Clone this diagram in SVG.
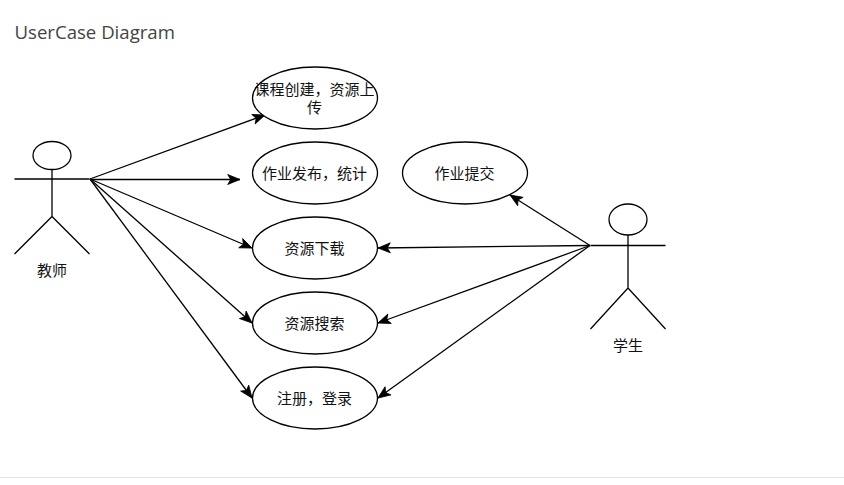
<svg xmlns="http://www.w3.org/2000/svg" width="844" height="485" viewBox="0 0 844 485">
<style>
.s{fill:none;stroke:#000;stroke-width:1.3}
.e{fill:#fff;stroke:#000;stroke-width:1.3}
.t{font-family:"Noto Sans CJK SC","Noto Sans",sans-serif;font-size:15px;fill:#111;text-anchor:middle}
.c{fill:none;stroke:#000;stroke-width:1.3;marker-end:url(#a)}
</style>
<defs>
<marker id="a" viewBox="0 0 14 12" refX="13" refY="6" markerUnits="userSpaceOnUse" markerWidth="14" markerHeight="12" orient="auto">
<path d="M0.7 1 L13 6 L0.7 11 L3.7 6 Z" fill="#000" stroke="#000" stroke-width="0.8"/>
</marker>
</defs>
<rect width="844" height="485" fill="#fff"/>
<text id="title" x="14.500" y="38.500" style="font-family:'Open Sans','Noto Sans',sans-serif;font-size:18.600px;fill:#444">UserCase Diagram</text>
<rect x="0" y="477" width="844" height="1" fill="#e2e2e2"/>
<g id="connectors">
<path class="c" d="M90 179 L265 115"/>
<path class="c" d="M90 179.500 L240 179.500"/>
<path class="c" d="M90 179 L252 248"/>
<path class="c" d="M90 179 L252 323"/>
<path class="c" d="M90 179 L252 398"/>
<path class="c" d="M590 245.500 L510 195"/>
<path class="c" d="M590 245.500 L378 248"/>
<path class="c" d="M590 245.500 L378 323"/>
<path class="c" d="M590 245.500 L378 398"/>
</g>
<g id="teacher">
<ellipse class="s" cx="52" cy="155.500" rx="19" ry="14"/>
<path class="s" d="M52 169.500 V216.500 M14.500 179 H89.500 M14.500 254 L52 216.500 L89.500 254"/>
<text class="t" x="52" y="276">教师</text>
</g>
<g id="student">
<ellipse class="s" cx="628" cy="219.500" rx="19" ry="15.500"/>
<path class="s" d="M628 235 V288 M590.500 245.500 H665.500 M590.500 329 L628 288 L665.500 329"/>
<text class="t" x="628" y="351">学生</text>
</g>
<g id="uc1"><ellipse class="e" cx="315" cy="98" rx="62.500" ry="31"/>
<text class="t" x="314.500" y="95">课程创建，资源上</text><text class="t" x="314.500" y="113">传</text></g>
<g id="uc2"><ellipse class="e" cx="315" cy="173" rx="62.500" ry="31"/><text class="t" x="314.500" y="179">作业发布，统计</text></g>
<g id="uc3"><ellipse class="e" cx="315" cy="248" rx="62.500" ry="31"/><text class="t" x="314.500" y="254">资源下载</text></g>
<g id="uc4"><ellipse class="e" cx="315" cy="323" rx="62.500" ry="31"/><text class="t" x="314.500" y="329">资源搜索</text></g>
<g id="uc5"><ellipse class="e" cx="315" cy="398" rx="62.500" ry="31"/><text class="t" x="314.500" y="404">注册，登录</text></g>
<g id="uc6"><ellipse class="e" cx="465" cy="173" rx="62.500" ry="31"/><text class="t" x="464.500" y="179">作业提交</text></g>
</svg>
